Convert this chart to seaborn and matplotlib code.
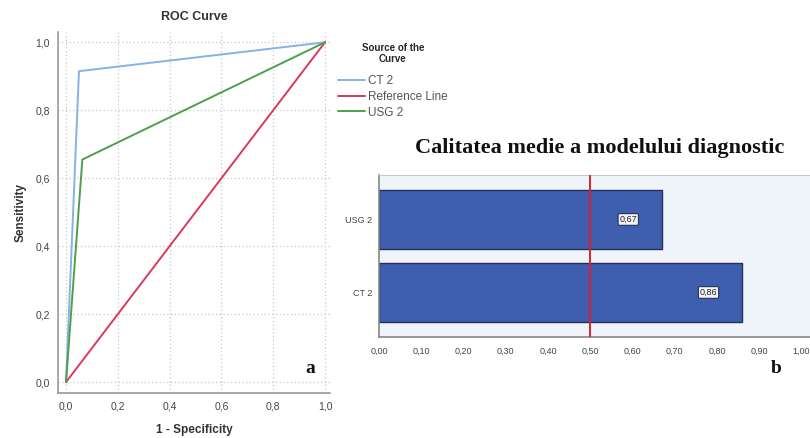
import matplotlib
matplotlib.use("Agg")
import matplotlib.pyplot as plt
import seaborn as sns
import pandas as pd
from matplotlib.ticker import FuncFormatter

sns.set_style("white")
plt.rcParams['font.family'] = ['Liberation Sans', 'DejaVu Sans']

# ROC data
ct2_fpr = [0.0, 0.05, 1.0]
ct2_tpr = [0.0, 0.915, 1.0]
ref_fpr = [0.0, 1.0]
ref_tpr = [0.0, 1.0]
usg2_fpr = [0.0, 0.063, 1.0]
usg2_tpr = [0.0, 0.655, 1.0]
series_names = ["CT 2", "Reference Line", "USG 2"]
series_colors = ["#86b3e3", "#d83a5a", "#4f9f4a"]

# Bar data
bar_labels = ["USG 2", "CT 2"]
bar_values = [0.67, 0.86]
bar_text = ["0,67", "0,86"]
ref_value = 0.5
x_ticks_b = [0.0, 0.1, 0.2, 0.3, 0.4, 0.5, 0.6, 0.7, 0.8, 0.9, 1.0]

roc = pd.concat([
    pd.DataFrame({"fpr": ct2_fpr, "tpr": ct2_tpr, "src": series_names[0]}),
    pd.DataFrame({"fpr": ref_fpr, "tpr": ref_tpr, "src": series_names[1]}),
    pd.DataFrame({"fpr": usg2_fpr, "tpr": usg2_tpr, "src": series_names[2]}),
], ignore_index=True)
bars = pd.DataFrame({"model": bar_labels, "value": bar_values})

fig = plt.figure(figsize=(8.1, 4.38), dpi=100)
fig.patch.set_facecolor("white")

# ---- Panel a: ROC
ax1 = fig.add_axes([0.0716, 0.1027, 0.336, 0.824])
sns.lineplot(data=roc, x="fpr", y="tpr", hue="src", hue_order=series_names,
             palette=series_colors, sort=False, estimator=None, linewidth=1.4,
             ax=ax1)
ax1.set_xlim(-0.031, 1.02)
ax1.set_ylim(-0.032, 1.03)
ticks = [0, 0.2, 0.4, 0.6, 0.8, 1.0]
ax1.set_xticks(ticks)
ax1.set_yticks(ticks)
fmt1 = FuncFormatter(lambda v, p: f"{v:.1f}".replace(".", ","))
ax1.xaxis.set_major_formatter(fmt1)
ax1.yaxis.set_major_formatter(fmt1)
ax1.tick_params(axis="both", labelsize=7.5, colors="#444444", length=0, pad=6)
ax1.grid(True, linestyle=(0, (1, 2)), color="#c8c8c8", linewidth=0.9)
for s in ["top", "right"]:
    ax1.spines[s].set_visible(False)
for s in ["left", "bottom"]:
    ax1.spines[s].set_color("#9a9a9a")
    ax1.spines[s].set_linewidth(1.2)
ax1.set_title("ROC Curve", fontsize=9, fontweight="bold", color="#333333", pad=9)
ax1.set_xlabel("1 - Specificity", fontsize=8.5, fontweight="bold", color="#333333", labelpad=9)
ax1.set_ylabel("Sensitivity", fontsize=8.5, fontweight="bold", color="#333333", labelpad=6)
ax1.text(0.945, 0.04, "a", fontsize=14, fontweight="bold", family="Liberation Serif",
         color="#111111", ha="center", va="center")
leg = ax1.legend(title="Source of the\nCurve", loc="upper left",
                 bbox_to_anchor=(0.99, 1.0), frameon=False, fontsize=8.5,
                 title_fontproperties={"size": 7, "weight": "bold"},
                 handlelength=2.3, handletextpad=0.25, labelspacing=0.3)
leg._legend_box.align = "center"
leg._legend_box.sep = 8
leg.get_title().set_multialignment("center")
for t in leg.get_texts():
    t.set_color("#555555")

# ---- Panel b: bars
ax2 = fig.add_axes([0.468, 0.2306, 0.535, 0.370])
ax2.set_facecolor("#eef4f9")
sns.barplot(data=bars, y="model", x="value", order=bar_labels, orient="h",
            color="#3f5fae", saturation=1, edgecolor="#22305a", linewidth=1.0,
            width=0.81, ax=ax2)
ax2.axvline(ref_value, color="#e0202a", linewidth=1.4, zorder=5)
for i, (v, t) in enumerate(zip(bar_values, bar_text)):
    ax2.text(v - 0.08, i, t, fontsize=6.5, color="#222222", ha="center", va="center",
             zorder=6,
             bbox=dict(boxstyle="round,pad=0.15", fc="#f4f4f4", ec="#22305a", lw=0.8))
ax2.set_xlim(0, 1.026)
ax2.set_ylim(1.61, -0.61)
ax2.set_xticks(x_ticks_b)
ax2.xaxis.set_major_formatter(FuncFormatter(lambda v, p: f"{v:.2f}".replace(".", ",")))
ax2.tick_params(axis="x", labelsize=6.5, colors="#444444", length=4, width=0.8,
                direction="out", pad=3)
ax2.tick_params(axis="y", labelsize=6.5, colors="#444444", length=3, width=0.8, pad=2)
ax2.set_xlabel("")
ax2.set_ylabel("")
ax2.spines["right"].set_visible(False)
ax2.spines["top"].set_color("#c8c8c8")
ax2.spines["top"].set_linewidth(0.8)
for s in ["left", "bottom"]:
    ax2.spines[s].set_color("#888888")
    ax2.spines[s].set_linewidth(1.2)
ax2.set_title("Calitatea medie a modelului diagnostic", fontsize=16, fontweight="bold",
              family="Liberation Serif", color="#111111", pad=16, x=0.508)
ax2.text(0.94, 2.04, "b", fontsize=14, fontweight="bold", family="Liberation Serif",
         color="#111111", ha="center", va="center", clip_on=False)

fig.savefig("out.png", dpi=100, facecolor="white")
